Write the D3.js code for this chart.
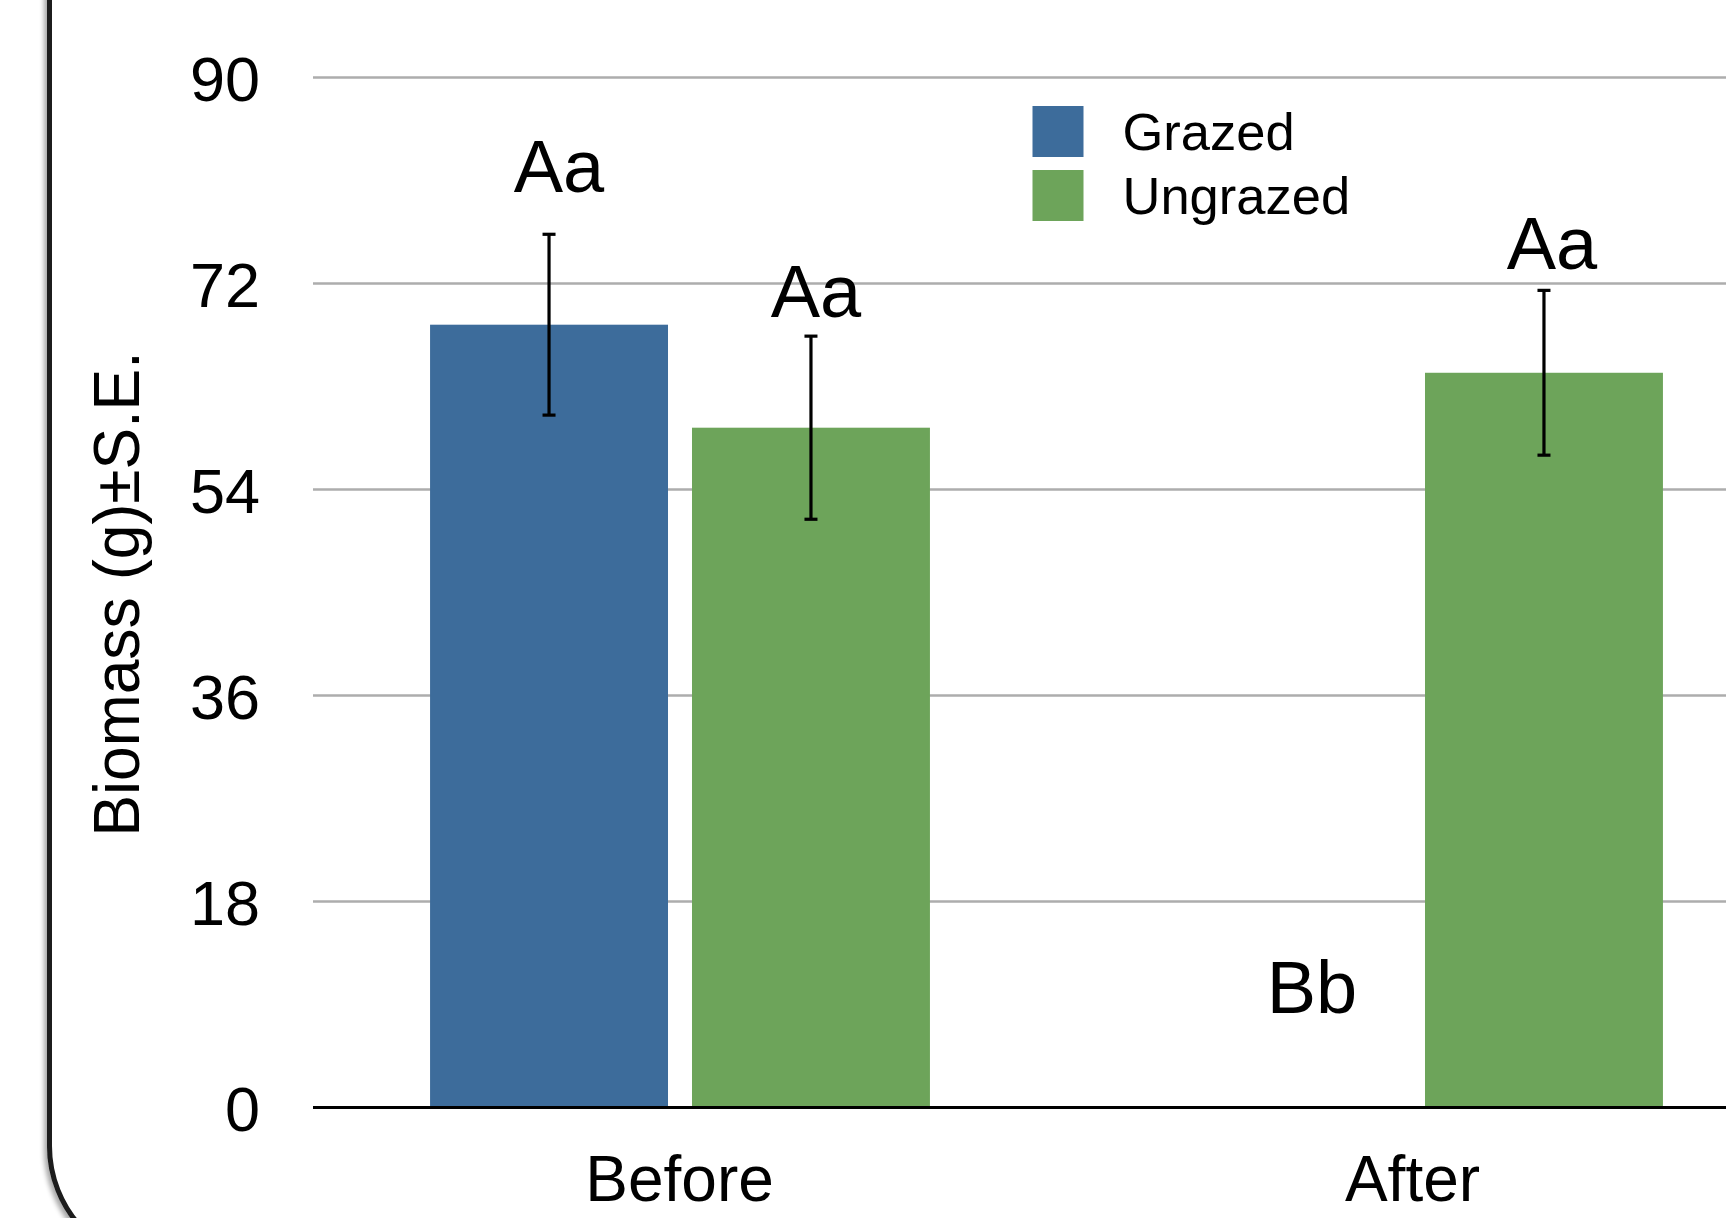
<!DOCTYPE html>
<html>
<head>
<meta charset="utf-8">
<script src="https://cdn.jsdelivr.net/npm/d3@7"></script>
<style>
  html, body { margin: 0; padding: 0; background: #fff; }
  svg { display: block; font-family: "Liberation Sans", Arial, Helvetica, sans-serif; }
</style>
</head>
<body>
<svg id="chart" width="1726" height="1218"></svg>
<script>
// Biomass before / after grazing treatment
const categories = ["Before", "After"];
const series = ["Grazed", "Ungrazed"];
const grazedMean = [68.4, 0];
const grazedSE = [7.9, 0];
const ungrazedMean = [59.4, 64.2];
const ungrazedSE = [8.0, 7.2];
const yTicks = [0, 18, 36, 54, 72, 90];
const seriesColors = ["#3d6c9b", "#6da45a"];

// Significance letters, anchored at a height in data units
const letterText = ["Aa", "Aa", "Bb", "Aa"];
const letterCategory = ["Before", "Before", "After", "After"];
const letterSeries = ["Grazed", "Ungrazed", "Grazed", "Ungrazed"];
const letterAt = [80.0, 69.1, 8.3, 73.3];

const means = { Grazed: grazedMean, Ungrazed: ungrazedMean };
const ses = { Grazed: grazedSE, Ungrazed: ungrazedSE };

const bars = [];
categories.forEach((c, i) => {
  series.forEach(s => bars.push({ cat: c, ser: s, mean: means[s][i], se: ses[s][i] }));
});

const svg = d3.select("#chart");

// rounded frame with a soft shadow
const defs = svg.append("defs");
const f = defs.append("filter").attr("id", "shadow")
  .attr("x", "-10%").attr("y", "-10%").attr("width", "120%").attr("height", "120%");
f.append("feGaussianBlur").attr("in", "SourceAlpha").attr("stdDeviation", 2.5).attr("result", "b");
f.append("feOffset").attr("in", "b").attr("dx", -3).attr("dy", 3).attr("result", "o");
f.append("feComponentTransfer").attr("in", "o").attr("result", "s")
  .append("feFuncA").attr("type", "linear").attr("slope", 0.35);
const fm = f.append("feMerge");
fm.append("feMergeNode").attr("in", "s");
fm.append("feMergeNode").attr("in", "SourceGraphic");

svg.append("rect")
  .attr("x", 49.5).attr("y", -200)
  .attr("width", 2000).attr("height", 1466)
  .attr("rx", 120).attr("ry", 120)
  .attr("fill", "#fff")
  .attr("stroke", "#1a1a1a").attr("stroke-width", 5)
  .attr("filter", "url(#shadow)");

const y = d3.scaleLinear().domain([0, 90]).range([1107.5, 77.5]);
const x = d3.scaleBand().domain(categories).range([313.5, 1779.5]).padding(0);
const xs = d3.scaleBand().domain(series).range([0, x.bandwidth()])
  .paddingInner(0.0916).paddingOuter(0.445);
const color = d3.scaleOrdinal().domain(series).range(seriesColors);

// gridlines
svg.append("g").selectAll("line")
  .data(yTicks.filter(t => t > 0))
  .join("line")
  .attr("x1", 313).attr("x2", 1726)
  .attr("y1", d => y(d)).attr("y2", d => y(d))
  .attr("stroke", "#adadad").attr("stroke-width", 2.5);

// y tick labels
const yAxis = d3.axisLeft(y).tickValues(yTicks).tickSize(0).tickPadding(0);
const gy = svg.append("g").attr("transform", "translate(260,0)").call(yAxis);
gy.select(".domain").remove();
gy.selectAll("text")
  .attr("font-size", 63).attr("fill", "#000")
  .attr("font-family", "Liberation Sans, Arial, sans-serif")
  .attr("dy", "0.37em").attr("x", 0);

// bars
svg.append("g").selectAll("rect")
  .data(bars.filter(b => b.mean > 0))
  .join("rect")
  .attr("x", d => x(d.cat) + xs(d.ser))
  .attr("width", xs.bandwidth())
  .attr("y", d => y(d.mean))
  .attr("height", d => y(0) - y(d.mean))
  .attr("fill", d => color(d.ser));

// baseline
svg.append("line")
  .attr("x1", 313).attr("x2", 1726)
  .attr("y1", y(0)).attr("y2", y(0))
  .attr("stroke", "#000").attr("stroke-width", 3);

// error bars
const eb = svg.append("g").selectAll("g")
  .data(bars.filter(b => b.se > 0))
  .join("g")
  .attr("transform", d => `translate(${x(d.cat) + xs(d.ser) + xs.bandwidth() / 2},0)`)
  .attr("stroke", "#000").attr("stroke-width", 3.2);
eb.append("line").attr("x1", 0).attr("x2", 0)
  .attr("y1", d => y(d.mean + d.se)).attr("y2", d => y(d.mean - d.se));
eb.append("line").attr("x1", -6.5).attr("x2", 6.5)
  .attr("y1", d => y(d.mean + d.se)).attr("y2", d => y(d.mean + d.se));
eb.append("line").attr("x1", -6.5).attr("x2", 6.5)
  .attr("y1", d => y(d.mean - d.se)).attr("y2", d => y(d.mean - d.se));

// significance letters
const letterNudge = [10, 5, 30, 8];
svg.append("g").selectAll("text")
  .data(letterText.map((t, i) => ({ t, cat: letterCategory[i], ser: letterSeries[i], at: letterAt[i], dx: letterNudge[i] })))
  .join("text")
  .attr("x", d => x(d.cat) + xs(d.ser) + xs.bandwidth() / 2 + d.dx)
  .attr("y", d => y(d.at))
  .attr("text-anchor", "middle")
  .attr("font-size", 74).attr("fill", "#000")
  .text(d => d.t);

// category labels
svg.append("g").selectAll("text")
  .data(categories)
  .join("text")
  .attr("x", d => x(d) + x.bandwidth() / 2 - 0.5)
  .attr("y", 1201)
  .attr("text-anchor", "middle")
  .attr("font-size", 64).attr("fill", "#000")
  .text(d => d);

// y axis title
svg.append("text")
  .attr("transform", "translate(139,594) rotate(-90)")
  .attr("text-anchor", "middle")
  .attr("font-size", 65)
  .attr("textLength", 485).attr("lengthAdjust", "spacingAndGlyphs")
  .attr("fill", "#000")
  .text("Biomass (g)±S.E.");

// legend
const lg = svg.append("g").attr("transform", "translate(1032.5,106)");
const li = lg.selectAll("g").data(series).join("g")
  .attr("transform", (d, i) => `translate(0,${i * 64})`);
li.append("rect").attr("width", 51).attr("height", 51).attr("fill", d => color(d));
li.append("text").attr("x", 90).attr("y", 44)
  .attr("font-size", 52.5).attr("fill", "#000")
  .text(d => d);
</script>
</body>
</html>
